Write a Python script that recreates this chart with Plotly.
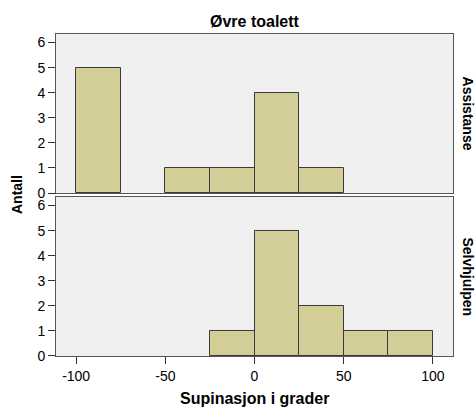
import plotly.graph_objects as go

# Assistanse (upper panel): bin centers and counts
assist_centers = [-87.5, -37.5, -12.5, 12.5, 37.5]
assist_counts = [5, 1, 1, 4, 1]
# Selvhjulpen (lower panel)
selv_centers = [-12.5, 12.5, 37.5, 62.5, 87.5]
selv_counts = [1, 5, 2, 1, 1]
bin_width = 25
x_ticks = [-100, -50, 0, 50, 100]
x_ticktext = ["-100", "-50", "0", "50", "100"]
y_ticks = [0, 1, 2, 3, 4, 5, 6]

FONT = "Liberation Sans, Arial, sans-serif"
bar_fill = "#d3ce97"
bar_line = "#3a3a3a"
frame = "#555555"

fig = go.Figure()
fig.add_trace(go.Bar(x=assist_centers, y=assist_counts, width=bin_width,
                     marker=dict(color=bar_fill, line=dict(color=bar_line, width=1)),
                     xaxis="x2", yaxis="y2", showlegend=False))
fig.add_trace(go.Bar(x=selv_centers, y=selv_counts, width=bin_width,
                     marker=dict(color=bar_fill, line=dict(color=bar_line, width=1)),
                     xaxis="x", yaxis="y", showlegend=False))

axis_common = dict(showline=True, linecolor=frame, linewidth=1, mirror=True,
                   showgrid=False, zeroline=False, ticks="outside", ticklen=7,
                   tickcolor="#333333", tickfont=dict(family=FONT, size=14, color="#000"))

fig.update_layout(
    width=476, height=409,
    margin=dict(l=56, r=23, t=34, b=53),
    paper_bgcolor="white", plot_bgcolor="#f0f0f0",
    bargap=0,
    font=dict(family=FONT, color="#000"),
    xaxis=dict(domain=[0, 1], range=[-111.3, 111.3], tickvals=x_ticks,
               ticktext=x_ticktext, anchor="y", **axis_common),
    xaxis2=dict(domain=[0, 1], range=[-111.3, 111.3], matches="x", anchor="y2",
                showticklabels=False, showline=True, linecolor=frame, linewidth=1,
                mirror=True, showgrid=False, zeroline=False, ticks=""),
    yaxis=dict(domain=[0, 0.4938], range=[0, 6.34], tickvals=y_ticks, anchor="x",
               **axis_common),
    yaxis2=dict(domain=[0.5062, 1], range=[0, 6.34], tickvals=y_ticks, anchor="x2",
                **axis_common),
    annotations=[
        dict(text="<b>Øvre toalett</b>", x=0.5, y=1, xref="paper", yref="paper",
             xanchor="center", yanchor="bottom", yshift=2, showarrow=False,
             font=dict(family=FONT, size=16)),
        dict(text="<b>Assistanse</b>", x=1, y=0.753, xref="paper", yref="paper",
             xanchor="left", yanchor="middle", xshift=5, textangle=90, showarrow=False,
             font=dict(family=FONT, size=14)),
        dict(text="<b>Selvhjulpen</b>", x=1, y=0.247, xref="paper", yref="paper",
             xanchor="left", yanchor="middle", xshift=5, textangle=90, showarrow=False,
             font=dict(family=FONT, size=14)),
        dict(text="<b>Antall</b>", x=0, y=0.5, xref="paper", yref="paper",
             xanchor="right", yanchor="middle", xshift=-29, textangle=-90, showarrow=False,
             font=dict(family=FONT, size=14)),
        dict(text="<b>Supinasjon i grader</b>", x=0.5, y=0, xref="paper", yref="paper",
             xanchor="center", yanchor="top", yshift=-32, showarrow=False,
             font=dict(family=FONT, size=16)),
    ],
)

fig.write_html("out.html")
